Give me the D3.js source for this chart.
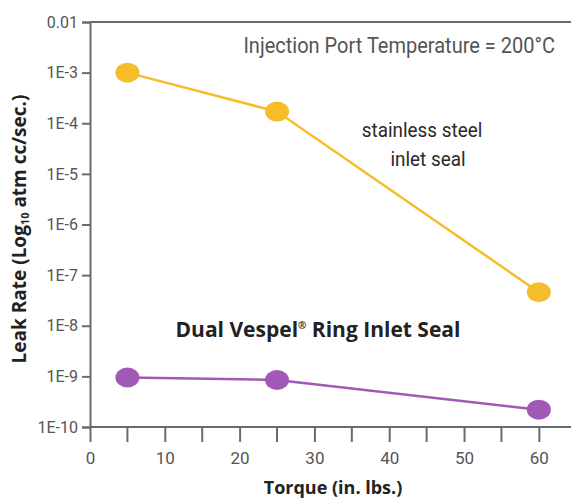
<!DOCTYPE html>
<html>
<head>
<meta charset="utf-8">
<script src="https://cdn.jsdelivr.net/npm/d3@7"></script>
<style>
  body { margin: 0; background: #fff; }
  svg text { font-family: "Roboto", "Liberation Sans", sans-serif; }
  .tick-label { fill: #555; }
  .bold-title { fill: #222; font-weight: bold; font-family: "Open Sans", "Noto Sans", sans-serif !important; }
</style>
</head>
<body>
<svg id="chart" width="571" height="500"></svg>
<script>
const torque = [5, 25, 60];
const steelLeak = [1e-3, 1.7e-4, 4.6e-8];
const vespelLeak = [9.5e-10, 8.5e-10, 2.2e-10];
const yTickValues = [1e-2, 1e-3, 1e-4, 1e-5, 1e-6, 1e-7, 1e-8, 1e-9, 1e-10];
const yTickLabels = ['0.01', '1E-3', '1E-4', '1E-5', '1E-6', '1E-7', '1E-8', '1E-9', '1E-10'];
const xTickValues = [0, 10, 20, 30, 40, 50, 60];
const xMinorValues = [5, 15, 25, 35, 45, 55, 65];

const svg = d3.select('#chart');
const margin = { top: 22, right: 0, bottom: 73, left: 90 };
const width = +svg.attr('width');
const height = +svg.attr('height');

const x = d3.scaleLinear().domain([0, 64.3]).range([margin.left, width]);
const y = d3.scaleLog().domain([1e-10, 1e-2]).range([height - margin.bottom, margin.top]);

const axisColor = '#6a6a6a';

// top border
svg.append('line')
  .attr('x1', x(0)).attr('x2', width)
  .attr('y1', y(1e-2)).attr('y2', y(1e-2))
  .attr('stroke', axisColor).attr('stroke-width', 2);

// y axis
const yAxis = d3.axisLeft(y)
  .tickValues(yTickValues)
  .tickFormat((d, i) => yTickLabels[i])
  .tickSize(8)
  .tickPadding(4);
const gy = svg.append('g').attr('transform', `translate(${margin.left},0)`).call(yAxis);
gy.select('.domain').attr('stroke', axisColor).attr('stroke-width', 2);
gy.selectAll('.tick line').attr('stroke', axisColor).attr('stroke-width', 2);
gy.selectAll('.tick text').attr('class', 'tick-label')
  .attr('font-family', null).attr('font-size', null)
  .style('font-size', '16px');

// x axis
const xAxis = d3.axisBottom(x)
  .tickValues(xTickValues)
  .tickSize(15)
  .tickPadding(10);
const gx = svg.append('g').attr('transform', `translate(0,${y(1e-10)})`).call(xAxis);
gx.select('.domain').remove();
gx.selectAll('.tick line').attr('stroke', axisColor).attr('stroke-width', 2);
gx.selectAll('.tick text').attr('class', 'tick-label')
  .attr('font-family', null).attr('font-size', null)
  .style('font-size', '17px');
svg.append('line')
  .attr('x1', x(0)).attr('x2', width)
  .attr('y1', y(1e-10)).attr('y2', y(1e-10))
  .attr('stroke', axisColor).attr('stroke-width', 2);
gx.selectAll('.minor')
  .data(xMinorValues)
  .join('line')
  .attr('x1', d => x(d)).attr('x2', d => x(d))
  .attr('y1', 0).attr('y2', 15)
  .attr('stroke', axisColor).attr('stroke-width', 2);

// series
function drawSeries(values, color) {
  const pts = torque.map((t, i) => [t, values[i]]);
  const line = d3.line().x(d => x(d[0])).y(d => y(d[1]));
  svg.append('path')
    .datum(pts)
    .attr('d', line)
    .attr('fill', 'none')
    .attr('stroke', color)
    .attr('stroke-width', 2.5);
  svg.selectAll(null)
    .data(pts)
    .join('ellipse')
    .attr('cx', d => x(d[0]))
    .attr('cy', d => y(d[1]))
    .attr('rx', 12)
    .attr('ry', 10)
    .attr('fill', color);
}
drawSeries(steelLeak, '#f5bd2a');
drawSeries(vespelLeak, '#a159b6');

// condensed-looking label: larger font squeezed horizontally
function narrowText(tx, ty, anchor, size, sx, fill, str) {
  svg.append('text')
    .attr('transform', `translate(${tx},${ty}) scale(${sx},1)`)
    .attr('text-anchor', anchor)
    .attr('fill', fill)
    .style('font-size', size + 'px')
    .text(str);
}
narrowText(555, 53, 'end', 22, 0.91, '#555', 'Injection Port Temperature = 200°C');
narrowText(422, 137, 'middle', 21, 0.9, '#2a2a2a', 'stainless steel');
narrowText(428, 166, 'middle', 21, 0.9, '#2a2a2a', 'inlet seal');

const vt = svg.append('text')
  .attr('x', 318).attr('y', 337)
  .attr('text-anchor', 'middle')
  .attr('class', 'bold-title')
  .style('font-size', '21px');
vt.append('tspan').text('Dual Vespel');
vt.append('tspan').attr('dy', -8).style('font-size', '10px').text('®');
vt.append('tspan').attr('dy', 8).text(' Ring Inlet Seal');

// axis titles
svg.append('text')
  .attr('x', 333).attr('y', 494)
  .attr('text-anchor', 'middle')
  .attr('class', 'bold-title')
  .style('font-size', '18px')
  .text('Torque (in. lbs.)');

const yt = svg.append('text')
  .attr('transform', 'translate(26,229) rotate(-90)')
  .attr('text-anchor', 'middle')
  .attr('class', 'bold-title')
  .style('font-size', '19px');
yt.append('tspan').text('Leak Rate (Log');
yt.append('tspan').attr('dy', 3).style('font-size', '11px').text('10');
yt.append('tspan').attr('dy', -3).text(' atm cc/sec.)');
</script>
</body>
</html>
